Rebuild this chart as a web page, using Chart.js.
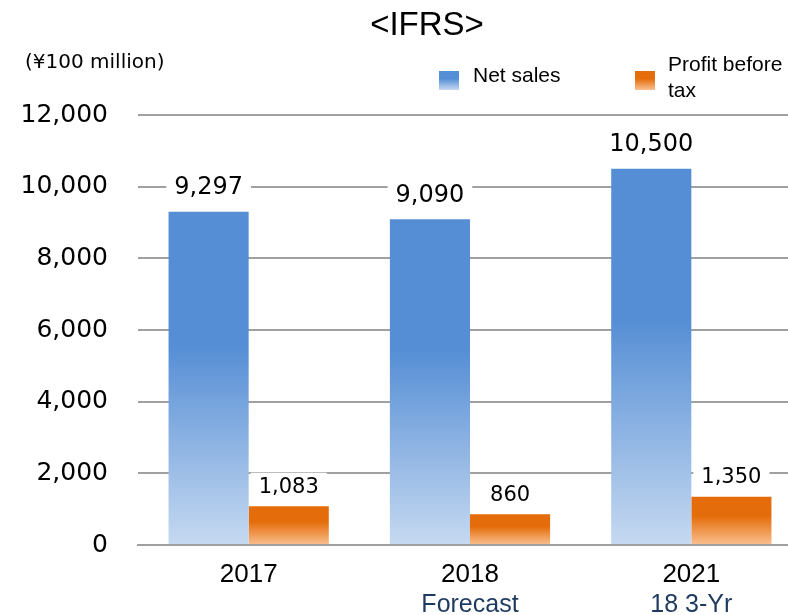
<!DOCTYPE html>
<html>
<head>
<meta charset="utf-8">
<script src="https://cdn.jsdelivr.net/npm/chart.js@4"></script>
<style>
  html, body { margin: 0; padding: 0; background: #fff; overflow: hidden; }
  #wrap { width: 802px; height: 615px; }
</style>
</head>
<body>
<div id="wrap"><canvas id="graphCanvas" width="802" height="615"></canvas></div>
<script>
const categories = ["2017", "2018", "2021"];
const subLabels = ["", "Forecast", "18 3-Yr"];
const netSales = [9297, 9090, 10500];
const profitBeforeTax = [1083, 860, 1350];
const yMax = 12000;
const yStep = 2000;

const BLUE = "#558ed5";
const BLUE_LIGHT = "#c6d9f1";
const ORANGE = "#e46c0a";
const ORANGE_LIGHT = "#fac090";

// vertical fade per bar: solid at the top, light at the base
const barFill = (top, light, solidStop) => (context) => {
  const chart = context.chart;
  const y = chart.scales.y;
  if (context.type !== "data" || !y) return top;
  const yTop = y.getPixelForValue(context.raw);
  const yBase = y.getPixelForValue(0);
  if (!isFinite(yTop) || !isFinite(yBase) || yTop === yBase) return top;
  const g = chart.ctx.createLinearGradient(0, yTop, 0, yBase);
  g.addColorStop(0, top);
  g.addColorStop(solidStop, top);
  g.addColorStop(1, light);
  return g;
};

// title, unit note and legend
const headerPlugin = {
  id: "header",
  afterDraw(chart) {
    const ctx = chart.ctx;
    ctx.save();
    ctx.fillStyle = "#000";
    ctx.textAlign = "center";
    ctx.textBaseline = "alphabetic";
    ctx.font = "33px 'Liberation Sans', Arial, sans-serif";
    ctx.fillText("<IFRS>", 427, 35);

    ctx.textAlign = "left";
    ctx.font = "20px 'DejaVu Sans', sans-serif";
    ctx.fillText("(¥100 million)", 25, 68);

    const swatch = (x, c1, c2) => {
      const g = ctx.createLinearGradient(0, 71, 0, 90);
      g.addColorStop(0, c1);
      g.addColorStop(0.4, c1);
      g.addColorStop(1, c2);
      ctx.fillStyle = g;
      ctx.fillRect(x, 71, 20, 19);
    };
    swatch(439, BLUE, BLUE_LIGHT);
    swatch(635, ORANGE, ORANGE_LIGHT);

    ctx.fillStyle = "#000";
    ctx.font = "21px 'Liberation Sans', Arial, sans-serif";
    ctx.fillText("Net sales", 473, 82);
    ctx.fillText("Profit before", 668, 71);
    ctx.fillText("tax", 668, 97);
    ctx.restore();
  },
};

// value labels on white boxes above each bar
const valueLabelPlugin = {
  id: "valueLabels",
  afterDatasetsDraw(chart) {
    const ctx = chart.ctx;
    const sizes = [24, 21];
    const gaps = [25, 20];
    ctx.save();
    chart.data.datasets.forEach((ds, di) => {
      const meta = chart.getDatasetMeta(di);
      ctx.font = sizes[di] + "px 'DejaVu Sans', sans-serif";
      ctx.textAlign = "center";
      ctx.textBaseline = "middle";
      meta.data.forEach((bar, i) => {
        const text = ds.data[i].toLocaleString("en-US");
        const cy = bar.y - gaps[di];
        const w = ctx.measureText(text).width + 16;
        const h = sizes[di] + 6;
        ctx.fillStyle = "#fff";
        ctx.fillRect(bar.x - w / 2, cy - h / 2, w, h);
        ctx.fillStyle = "#000";
        ctx.fillText(text, bar.x, cy + 1);
      });
    });
    ctx.restore();
  },
};

// second line of the category labels
const subLabelPlugin = {
  id: "subLabels",
  afterDraw(chart) {
    const ctx = chart.ctx;
    const x = chart.scales.x;
    ctx.save();
    ctx.fillStyle = "#1f3a5f";
    ctx.font = "25px 'Liberation Sans', Arial, sans-serif";
    ctx.textAlign = "center";
    ctx.textBaseline = "alphabetic";
    subLabels.forEach((s, i) => {
      if (s) ctx.fillText(s, x.getPixelForValue(i), 612);
    });
    ctx.restore();
  },
};

new Chart(document.getElementById("graphCanvas").getContext("2d"), {
  type: "bar",
  data: {
    labels: categories,
    datasets: [
      {
        label: "Net sales",
        data: netSales,
        backgroundColor: barFill(BLUE, BLUE_LIGHT, 0.4),
        barPercentage: 1,
        categoryPercentage: 0.724,
      },
      {
        label: "Profit before tax",
        data: profitBeforeTax,
        backgroundColor: barFill(ORANGE, ORANGE_LIGHT, 0.4),
        barPercentage: 1,
        categoryPercentage: 0.724,
      },
    ],
  },
  options: {
    responsive: false,
    animation: false,
    layout: { padding: { top: 115, left: 0, right: 0, bottom: 0 } },
    plugins: {
      legend: { display: false },
      title: { display: false },
      tooltip: { enabled: false },
    },
    scales: {
      x: {
        grid: { display: false, drawTicks: false },
        border: { display: true, color: "#a0a0a0", width: 2 },
        ticks: {
          color: "#000",
          padding: 14,
          font: { family: "'Liberation Sans', Arial, sans-serif", size: 26 },
        },
        afterFit(scale) {
          scale.height = 70;
        },
      },
      y: {
        min: 0,
        max: yMax,
        grid: { color: "#a0a0a0", lineWidth: 2, drawTicks: false },
        border: { display: false },
        ticks: {
          stepSize: yStep,
          color: "#000",
          padding: 30,
          font: { family: "'DejaVu Sans', sans-serif", size: 25 },
          callback: (v) => v.toLocaleString("en-US"),
        },
        afterFit(scale) {
          scale.width = 138;
        },
      },
    },
  },
  plugins: [headerPlugin, valueLabelPlugin, subLabelPlugin],
});
</script>
</body>
</html>
